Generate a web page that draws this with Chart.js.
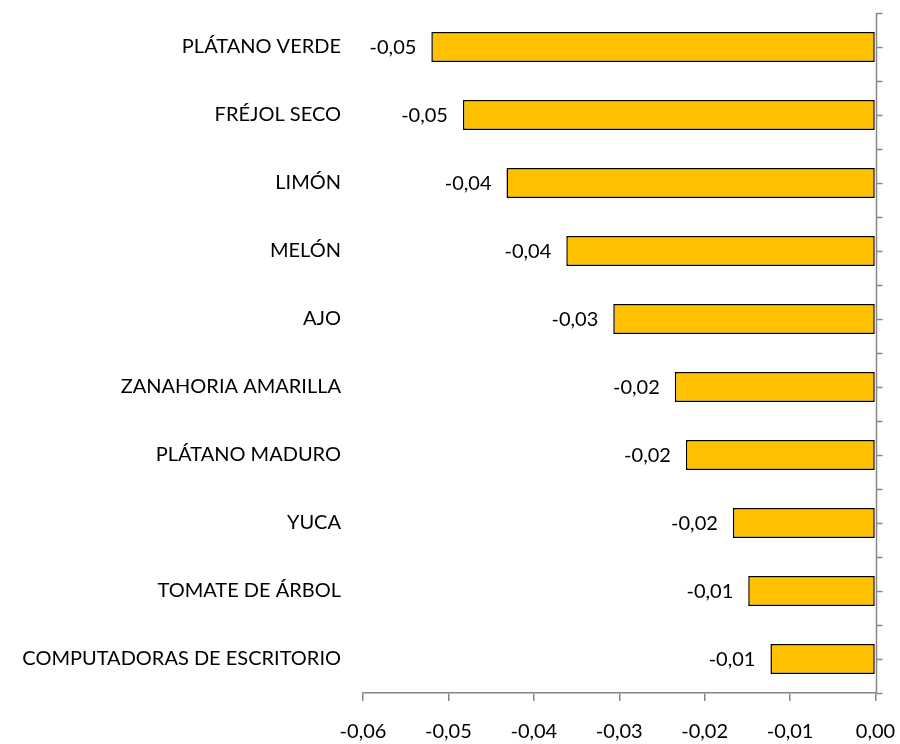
<!DOCTYPE html>
<html>
<head>
<meta charset="utf-8">
<script src="https://cdn.jsdelivr.net/npm/chart.js@4/dist/chart.umd.min.js"></script>
<style>
  html, body { margin: 0; padding: 0; background: #ffffff; }
  #wrap { width: 900px; height: 744px; }
</style>
</head>
<body>
<div id="wrap"><canvas id="c" width="900" height="744"></canvas></div>
<script>
const categories = [
  "PLÁTANO VERDE",
  "FRÉJOL SECO",
  "LIMÓN",
  "MELÓN",
  "AJO",
  "ZANAHORIA AMARILLA",
  "PLÁTANO MADURO",
  "YUCA",
  "TOMATE DE ÁRBOL",
  "COMPUTADORAS DE ESCRITORIO"
];
const values = [-0.0520, -0.0483, -0.0432, -0.0362, -0.0307, -0.0235, -0.0222, -0.0167, -0.0149, -0.0123];
const xTicks = [-0.06, -0.05, -0.04, -0.03, -0.02, -0.01, 0.00];

const FONT = "Lato";
const FONT_SIZE = 20;
const AXIS = "#868686";
const fmt = v => v.toFixed(2).replace('.', ',');

const valueLabels = {
  id: 'valueLabels',
  afterDatasetsDraw(chart) {
    const ctx = chart.ctx;
    const meta = chart.getDatasetMeta(0);
    ctx.save();
    ctx.font = FONT_SIZE + "px " + FONT;
    ctx.fillStyle = "#000000";
    ctx.textAlign = "right";
    ctx.textBaseline = "middle";
    meta.data.forEach((bar, i) => {
      ctx.fillText(fmt(values[i]), bar.x - 15, bar.y + 1);
    });
    ctx.restore();
  }
};

const rightAxis = {
  id: 'rightAxis',
  afterDraw(chart) {
    const ctx = chart.ctx;
    const xs = chart.scales.x;
    const ys = chart.scales.y;
    const x0 = Math.round(xs.getPixelForValue(0)) + 0.5;
    const top = chart.chartArea.top, bottom = chart.chartArea.bottom;
    ctx.save();
    ctx.strokeStyle = AXIS;
    ctx.lineWidth = 1.5;
    ctx.beginPath();
    ctx.moveTo(x0, top);
    ctx.lineTo(x0, bottom);
    ctx.stroke();
    ctx.beginPath();
    for (let k = 0; k <= categories.length * 2; k++) {
      const y = Math.round(ys.getPixelForValue(k / 2 - 0.5)) + 0.5;
      ctx.moveTo(x0, y);
      ctx.lineTo(x0 + 6, y);
    }
    ctx.stroke();
    ctx.restore();
  }
};

new Chart(document.getElementById('c'), {
  type: 'bar',
  data: {
    labels: categories,
    datasets: [{
      data: values,
      backgroundColor: "#FFC000",
      borderColor: "#000000",
      borderWidth: 1.5,
      borderSkipped: false,
      categoryPercentage: 1.0,
      barPercentage: 0.44
    }]
  },
  options: {
    indexAxis: 'y',
    responsive: false,
    animation: false,
    devicePixelRatio: 1,
    layout: { padding: { top: 13, right: 24.5, bottom: 0, left: 0 } },
    plugins: { legend: { display: false }, tooltip: { enabled: false } },
    scales: {
      x: {
        type: 'linear',
        min: -0.06,
        max: 0,
        afterBuildTicks(scale) { scale.ticks = xTicks.map(v => ({ value: v })); },
        afterFit(scale) { scale.height = 51; scale.paddingLeft = 0; scale.paddingRight = 0; },
        ticks: {
          callback: v => fmt(v),
          font: { family: FONT, size: FONT_SIZE },
          color: "#000000",
          padding: 19
        },
        grid: { display: true, drawOnChartArea: false, drawTicks: true, tickLength: 8, color: AXIS, lineWidth: 1.5 },
        border: { display: true, color: AXIS, width: 1.5 }
      },
      y: {
        type: 'category',
        position: 'left',
        afterFit(scale) { scale.width = 363; scale.paddingTop = 0; scale.paddingBottom = 0; },
        ticks: {
          font: { family: FONT, size: FONT_SIZE },
          color: "#000000",
          padding: 14
        },
        grid: { display: false },
        border: { display: false }
      }
    }
  },
  plugins: [valueLabels, rightAxis]
});
</script>
</body>
</html>
